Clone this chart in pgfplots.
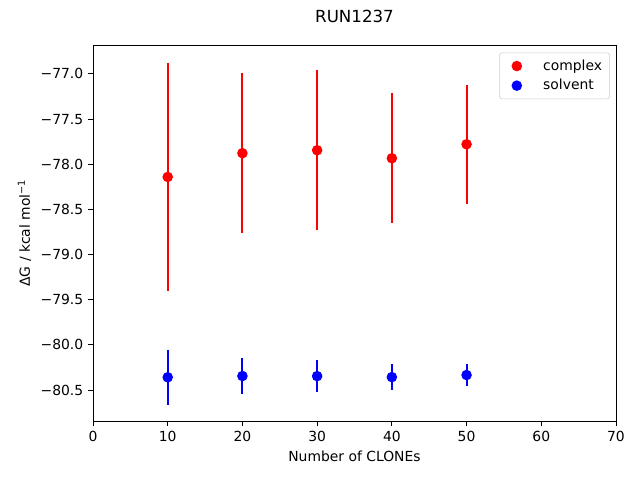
\documentclass[border=0pt]{standalone}
\usepackage{pgfplots}
\pgfplotsset{compat=1.18}
\usepackage{fontspec}
\setmainfont{DejaVu Sans}
\begin{document}
\begin{tikzpicture}[x=1pt,y=1pt]
\path[use as bounding box] (-66.96,-42.48) rectangle (393.84,303.12);
\begin{axis}[
  at={(0,0)}, anchor=south west,
  scale only axis, width=376.56pt, height=270.72pt,
  xmin=0, xmax=70, ymin=-80.843, ymax=-76.68,
  xtick={0,10,...,70},
  ytick={-80.5,-80,-79.5,-79,-78.5,-78,-77.5,-77},
  yticklabels={−80.5,−80.0,−79.5,−79.0,−78.5,−78.0,−77.5,−77.0},
  /pgf/number format/assume math mode=true,
  tick align=outside, tick pos=left,
  major tick length=3.5pt,
  every tick/.style={black, line width=0.6pt},
  axis line style={line width=0.6pt},
  tick label style={font=\fontsize{10}{12}\selectfont},
  label style={font=\fontsize{10}{12}\selectfont},
  xlabel={Number of CLONEs},
  ylabel={ΔG / kcal mol\textsuperscript{−1}},
  legend style={at={(0.9885,0.98)}, anchor=north east, draw=black!20, rounded corners=2pt, font=\fontsize{10}{12}\selectfont, row sep=1pt, inner xsep=3.5pt, inner ysep=3pt},
  legend cell align=left,
  legend image code/.code={\path[draw=none,fill=none] (0,-2pt) rectangle (2.6em,2pt); \fill (0.9em,0) circle (3pt);},
]
\addplot[red, only marks, mark=*, mark size=3pt, line width=1.5pt,
  error bars/.cd, y dir=both, y explicit, error bar style={red, line width=1.5pt}, error mark=none]
  coordinates {
  (10,-78.141) +- (0,1.267)
  (20,-77.878) +- (0,0.885)
  (30,-77.845) +- (0,0.884)
  (40,-77.934) +- (0,0.719)
  (50,-77.779) +- (0,0.657)
  };
\addlegendentry{complex}
\addplot[blue, only marks, mark=*, mark size=3pt, line width=1.5pt,
  error bars/.cd, y dir=both, y explicit, error bar style={blue, line width=1.5pt}, error mark=none]
  coordinates {
  (10,-80.359) +- (0,0.303)
  (20,-80.345) +- (0,0.203)
  (30,-80.346) +- (0,0.180)
  (40,-80.357) +- (0,0.148)
  (50,-80.334) +- (0,0.123)
  };
\addlegendentry{solvent}
\end{axis}
\node[font=\fontsize{12}{14}\selectfont] at (188.28,291.6) {RUN1237};
\end{tikzpicture}
\end{document}
